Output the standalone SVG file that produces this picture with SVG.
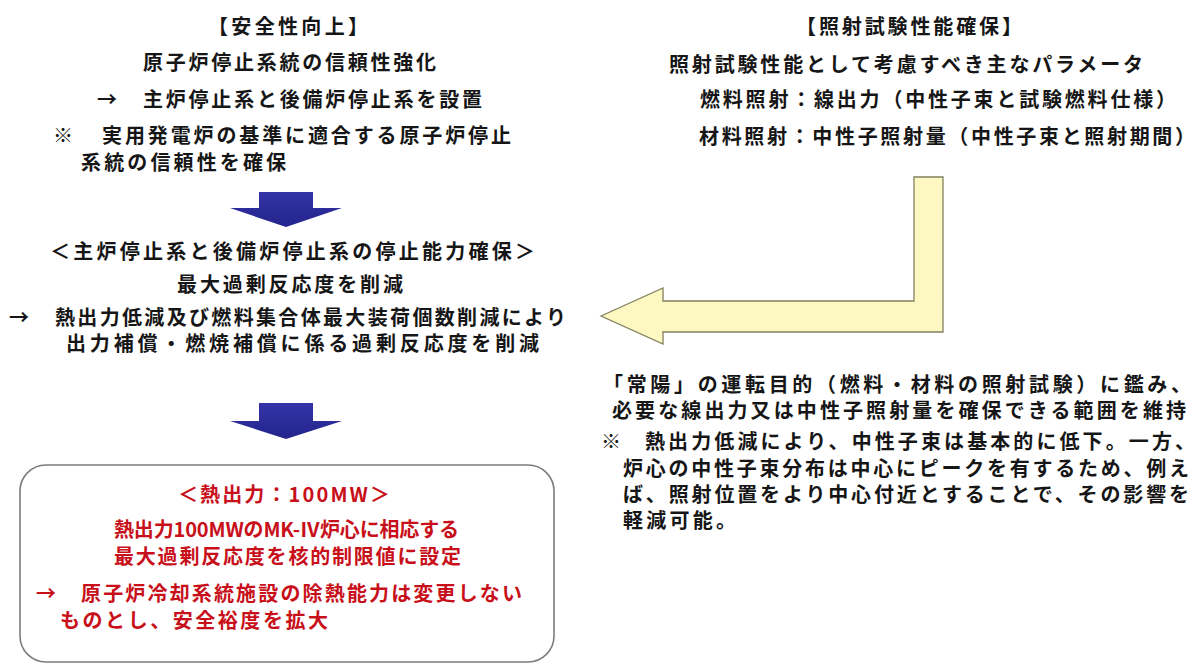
<svg xmlns="http://www.w3.org/2000/svg" width="1197" height="664" viewBox="0 0 1197 664">
<style>
text{font-family:"Noto Sans CJK JP","Noto Sans CJK SC",sans-serif;font-weight:700;font-size:20px;fill:#161616}
.r{fill:#c8101a}
.blue{fill:url(#bg)}
.yel{fill:#fdf8c2;stroke:#80805e;stroke-width:1.3}
.box{fill:#ffffff;stroke:#7c7c7c;stroke-width:1.6}
</style>
<defs>
<linearGradient id="bg" x1="0" y1="0" x2="0" y2="1">
<stop offset="0" stop-color="#3434a8"/>
<stop offset="1" stop-color="#24248c"/>
</linearGradient>
</defs>
<rect width="1197" height="664" fill="#ffffff"/>
<g id="safety">
<text x="208" y="34" textLength="160" lengthAdjust="spacing">【安全性向上】</text>
<text x="143" y="70" textLength="293" lengthAdjust="spacing">原子炉停止系統の信頼性強化</text>
<text x="97" y="107">→</text>
<text x="143" y="107" textLength="339" lengthAdjust="spacing">主炉停止系と後備炉停止系を設置</text>
<text x="53" y="143">※</text>
<text x="102" y="143" textLength="409" lengthAdjust="spacing">実用発電炉の基準に適合する原子炉停止</text>
<text x="81" y="170" textLength="205" lengthAdjust="spacing">系統の信頼性を確保</text>
</g>
<g id="shutdown">
<text x="50" y="259" textLength="485" lengthAdjust="spacing">＜主炉停止系と後備炉停止系の停止能力確保＞</text>
<text x="177" y="292" textLength="226" lengthAdjust="spacing">最大過剰反応度を削減</text>
<text x="9" y="325">→</text>
<text x="55" y="325" textLength="511" lengthAdjust="spacing">熱出力低減及び燃料集合体最大装荷個数削減により</text>
<text x="66" y="351" textLength="473" lengthAdjust="spacing">出力補償・燃焼補償に係る過剰反応度を削減</text>
</g>
<g id="result">
<rect class="box" x="20" y="465" width="534" height="197" rx="26" ry="26"/>
<text class="r" x="178" y="502" textLength="212" lengthAdjust="spacing">＜熱出力：100MW＞</text>
<text class="r" x="114" y="537" textLength="345" lengthAdjust="spacing">熱出力100MWのMK-Ⅳ炉心に相応する</text>
<text class="r" x="114" y="564" textLength="347" lengthAdjust="spacing">最大過剰反応度を核的制限値に設定</text>
<text class="r" x="36" y="601">→</text>
<text class="r" x="81" y="601" textLength="441" lengthAdjust="spacing">原子炉冷却系統施設の除熱能力は変更しない</text>
<text class="r" x="60" y="628" textLength="268" lengthAdjust="spacing">ものとし、安全裕度を拡大</text>
</g>
<g id="irradiation">
<text x="796" y="34" textLength="226" lengthAdjust="spacing">【照射試験性能確保】</text>
<text x="669" y="72" textLength="474" lengthAdjust="spacing">照射試験性能として考慮すべき主なパラメータ</text>
<text x="700" y="107" textLength="476" lengthAdjust="spacing">燃料照射：線出力（中性子束と試験燃料仕様）</text>
<text x="699" y="144" textLength="496" lengthAdjust="spacing">材料照射：中性子照射量（中性子束と照射期間）</text>
</g>
<g id="purpose">
<text x="603" y="392" textLength="588" lengthAdjust="spacing">「常陽」の運転目的（燃料・材料の照射試験）に鑑み、</text>
<text x="612" y="418" textLength="574" lengthAdjust="spacing">必要な線出力又は中性子照射量を確保できる範囲を維持</text>
<text x="601" y="449">※</text>
<text x="645" y="449" textLength="550" lengthAdjust="spacing">熱出力低減により、中性子束は基本的に低下。一方、</text>
<text x="623" y="476" textLength="566" lengthAdjust="spacing">炉心の中性子束分布は中心にピークを有するため、例え</text>
<text x="623" y="502" textLength="566" lengthAdjust="spacing">ば、照射位置をより中心付近とすることで、その影響を</text>
<text x="623" y="528" textLength="113" lengthAdjust="spacing">軽減可能。</text>
</g>
<g id="connectors">
<path class="blue" d="M259 192H313V208H342L286 227L230 208H259Z"/>
<path class="blue" d="M259 403H313V421H342L286 439L230 421H259Z"/>
<path class="yel" d="M601 316L663 288V301H914V177H943V332H663V344Z"/>
</g>
</svg>
